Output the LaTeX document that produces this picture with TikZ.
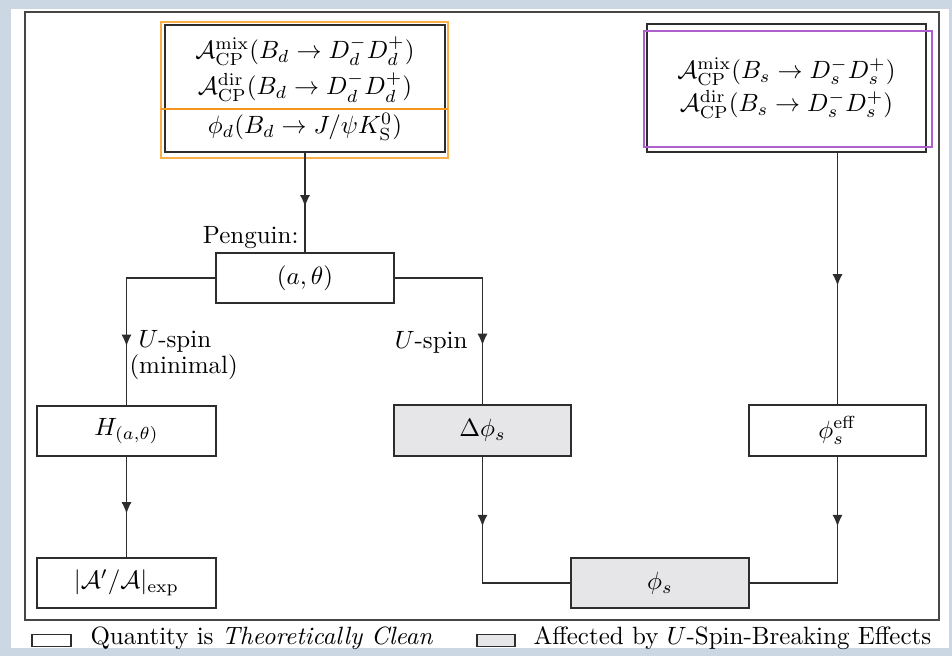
\documentclass[tikz,border=0pt]{standalone}
\usetikzlibrary{arrows.meta,decorations.markings}
\definecolor{bgblue}{RGB}{203,215,226}
\definecolor{boxline}{RGB}{45,45,45}
\definecolor{framecol}{RGB}{70,70,70}
\definecolor{grayfill}{RGB}{230,230,232}
\definecolor{orangecol}{RGB}{250,175,75}
\definecolor{orangedark}{RGB}{245,150,30}
\definecolor{purplecol}{RGB}{175,95,205}
\def\s{0.4}
\tikzset{
  qbox/.style={draw=boxline, line width=0.55pt, rectangle, inner sep=0pt, align=center},
  cleanbox/.style={qbox, fill=white},
  brokenbox/.style={qbox, fill=grayfill},
  conn/.style={draw=boxline, line width=0.55pt},
  midarrow/.style={conn, postaction={decorate}, decoration={markings,
      mark=at position #1 with {\arrow{Latex[length=4.6pt,width=4pt]}}}},
  lbl/.style={inner sep=0pt},
  bw/.style={minimum width={#1*\s*1pt}},
  bh/.style={minimum height={#1*\s*1pt}},
}
\begin{document}
\begin{tikzpicture}[x=0.4pt,y=-0.4pt,font=\fontsize{10}{14.5}\selectfont]
\useasboundingbox (0,0) rectangle (952,656);
\fill[bgblue] (0,0) rectangle (952,656);
\fill[white] (11,9) rectangle (949,648);
\draw[framecol, line width=0.75pt] (25,12) rectangle (939,620);

% nodes
\node[cleanbox, bw=280, bh=127] (bd) at (305,88.5)
  {$\mathcal{A}_{\mathrm{CP}}^{\mathrm{mix}}(B_d\to D_d^-D_d^+)$\\
   $\mathcal{A}_{\mathrm{CP}}^{\mathrm{dir}}(B_d\to D_d^-D_d^+)$\\[1pt]
   $\phi_d(B_d\to J/\psi K_{\mathrm{S}}^0)$};
\node[cleanbox, bw=279, bh=128, font=\fontsize{10}{13.3}\selectfont] (bs) at (786.5,88)
  {$\mathcal{A}_{\mathrm{CP}}^{\mathrm{mix}}(B_s\to D_s^-D_s^+)$\\
   $\mathcal{A}_{\mathrm{CP}}^{\mathrm{dir}}(B_s\to D_s^-D_s^+)$};
\node[cleanbox, bw=178, bh=50] (at) at (305,278) {$(a,\theta)$};
\node[cleanbox, bw=179, bh=50] (H) at (126.5,431) {$H_{(a,\theta)}$};
\node[cleanbox, bw=179, bh=50] (Aexp) at (126.5,583) {$|\mathcal{A}'/\mathcal{A}|_{\mathrm{exp}}$};
\node[brokenbox, bw=177, bh=51] (dphi) at (482.5,430.5) {$\Delta\phi_s$};
\node[cleanbox, bw=177, bh=51] (phieff) at (837.5,430.5) {$\phi_s^{\mathrm{eff}}$};
\node[brokenbox, bw=178, bh=50] (phis) at (660,583) {$\phi_s$};

% highlight frames
\draw[orangecol, line width=0.8pt] (161,22) rectangle (448,158);
\draw[orangedark, line width=0.85pt] (161,109) -- (448,109);
\draw[purplecol, line width=0.75pt] (644,31) rectangle (932,147);

% connectors
\path[midarrow=21.6pt] (bd.south) -- (at.north);
\path[midarrow=62.8pt] (at.west) -| (H.north);
\path[midarrow=62.0pt] (at.east) -| (dphi.north);
\path[midarrow=22.8pt] (H.south) -- (Aexp.north);
\path[midarrow=27.9pt] (dphi.south) |- (phis.west);
\path[midarrow=53.2pt] (bs.south -| phieff.north) -- (phieff.north);
\path[midarrow=27.9pt] (phieff.south) |- (phis.east);

% labels
\node[lbl, anchor=base east] (peng) at (299,243) {Penguin:};
\node[lbl, anchor=base west] (us1) at (138,347) {$U$-spin};
\node[lbl, anchor=base west] (us1b) at (129,373) {(minimal)};
\node[lbl, anchor=base east] (us2) at (468,348) {$U$-spin};

% legend
\node[draw=boxline, line width=0.45pt, fill=white, bw=39, bh=12, inner sep=0pt] (legc) at (51.5,640.5) {};
\node[lbl, anchor=base west] (legct) at (90,644) {Quantity is \textit{Theoretically Clean}};
\node[draw=boxline, line width=0.45pt, fill=grayfill, bw=38, bh=12, inner sep=0pt] (legb) at (496,640.5) {};
\node[lbl, anchor=base west] (legbt) at (533,644) {Affected by $U$-Spin-Breaking Effects};
\end{tikzpicture}
\end{document}
